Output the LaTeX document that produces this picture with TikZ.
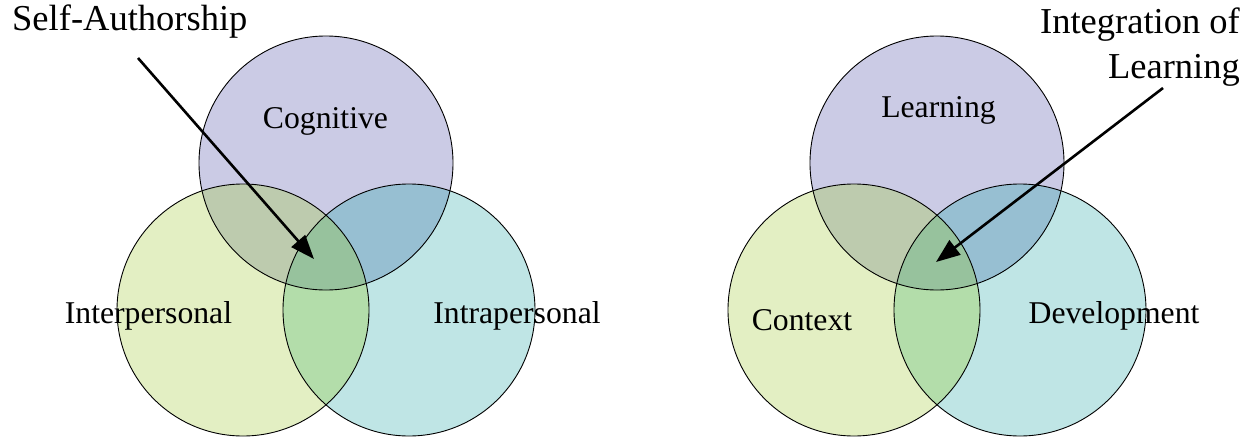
\documentclass[tikz,border=0pt]{standalone}
\usepackage{fontspec}
\setmainfont{Liberation Serif}
\usetikzlibrary{arrows.meta}
\definecolor{cTop}{RGB}{203,203,229}
\definecolor{cLeft}{RGB}{227,239,195}
\definecolor{cRight}{RGB}{191,229,229}
\definecolor{cTL}{RGB}{189,203,174}
\definecolor{cTR}{RGB}{151,191,210}
\definecolor{cLR}{RGB}{179,221,170}
\definecolor{cAll}{RGB}{151,194,157}
\tikzset{
  lbl/.style={font=\fontsize{31.7pt}{38pt}\selectfont, inner sep=0pt, anchor=base},
  ttl/.style={font=\fontsize{36.5pt}{43pt}\selectfont, inner sep=0pt},
  ring/.style={draw=black, line width=0.9pt},
  pointer/.style={line width=2.6pt, -{Triangle[length=24pt,width=18pt]}},
}
\newcommand{\venn}[3]{%
  % #1 top centre, #2 left centre, #3 right centre
  \fill[cTop] (#1) circle (127pt);
  \fill[cLeft] (#2) circle (126pt);
  \fill[cRight] (#3) circle (126pt);
  \begin{scope}\clip (#1) circle (127pt); \fill[cTL] (#2) circle (126pt); \fill[cTR] (#3) circle (126pt);\end{scope}
  \begin{scope}\clip (#2) circle (126pt); \fill[cLR] (#3) circle (126pt);
    \clip (#3) circle (126pt); \fill[cAll] (#1) circle (127pt);\end{scope}
  \draw[ring] (#1) circle (127pt);
  \draw[ring] (#2) circle (126pt);
  \draw[ring] (#3) circle (126pt);
}
\begin{document}
\begin{tikzpicture}[x=1pt,y=-1pt]
\useasboundingbox (0,0) rectangle (1259,440);
\fill[white] (0,0) rectangle (1259,440);
% left diagram
\coordinate (cogC) at (326,163);
\coordinate (interC) at (243,310);
\coordinate (intraC) at (409,310);
\venn{cogC}{interC}{intraC}
% right diagram
\coordinate (learnC) at (937,163);
\coordinate (contC) at (854,310);
\coordinate (devC) at (1020,310);
\venn{learnC}{contC}{devC}
% labels left
\node[lbl] (cog) at (325.5,128) {Cognitive};
\node[lbl] (inter) at (148.5,323) {Interpersonal};
\node[lbl] (intra) at (517,323) {Intrapersonal};
\node[ttl, anchor=base west] (sa) at (12,30) {Self-Authorship};
% labels right
\node[lbl] (learn) at (938.5,117) {Learning};
\node[lbl] (cont) at (802,330) {Context};
\node[lbl] (dev) at (1114,323) {Development};
\node[ttl, anchor=base east, align=right] (il1) at (1240,33) {Integration of};
\node[ttl, anchor=base east] (il2) at (1240,78) {Learning};
% arrows
\coordinate (saS) at (138,58);
\coordinate (saT) at (314,259);
\coordinate (ilS) at (1163,88);
\coordinate (ilT) at (936,262);
\draw[pointer] (saS) -- (saT);
\draw[pointer] (ilS) -- (ilT);
\end{tikzpicture}
\end{document}
